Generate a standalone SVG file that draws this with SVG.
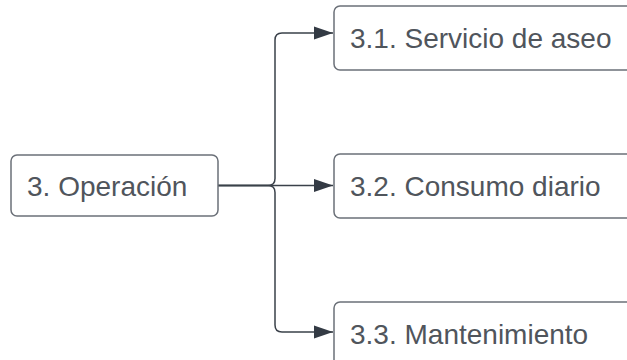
<svg xmlns="http://www.w3.org/2000/svg" width="627" height="360" viewBox="0 0 627 360">
<style>
.box{fill:#ffffff;stroke:#6b7078;stroke-width:1.5}
.lbl{font-family:"Liberation Sans",Arial,sans-serif;font-size:28px;fill:#50555c}
.conn{fill:none;stroke:#3a414a;stroke-width:1.5}
</style>
<defs>
<marker id="arr" markerWidth="22" markerHeight="16" refX="20" refY="8" orient="auto" markerUnits="userSpaceOnUse">
<path d="M1,1.5 L20,8 L1,14.5 Z" fill="#333a44"/>
</marker>
</defs>
<rect width="627" height="360" fill="#ffffff"/>
<g id="connectors">
<path class="conn" d="M218,185.5 H268 Q275,185.5 275,178.5 V40 Q275,33 282,33 H333" marker-end="url(#arr)"/>
<path class="conn" d="M218,185.5 H333" marker-end="url(#arr)"/>
<path class="conn" d="M218,185.5 H268 Q275,185.5 275,192.5 V325 Q275,332 282,332 H333" marker-end="url(#arr)"/>
</g>
<g id="n3">
<rect class="box" x="11" y="155" width="207" height="61" rx="6"/>
<text class="lbl" x="27" y="196">3. Operación</text>
</g>
<g id="n31">
<rect class="box" x="334" y="6" width="310" height="64" rx="6"/>
<text class="lbl" x="350" y="48">3.1. Servicio de aseo</text>
</g>
<g id="n32">
<rect class="box" x="334" y="154" width="310" height="64" rx="6"/>
<text class="lbl" x="350" y="196">3.2. Consumo diario</text>
</g>
<g id="n33">
<rect class="box" x="334" y="302" width="310" height="64" rx="6"/>
<text class="lbl" x="350" y="344">3.3. Mantenimiento</text>
</g>
</svg>
